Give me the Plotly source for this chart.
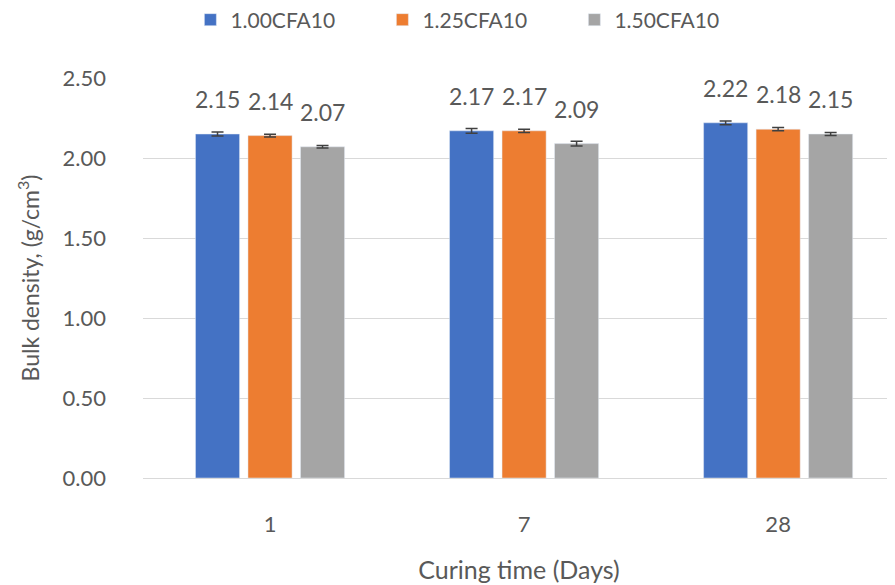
import plotly.graph_objects as go

days = ["1", "7", "28"]
series = ["1.00CFA10", "1.25CFA10", "1.50CFA10"]
colors = ["#4472C4", "#ED7D31", "#A5A5A5"]

density_100 = [2.15, 2.17, 2.22]
density_125 = [2.14, 2.17, 2.18]
density_150 = [2.07, 2.09, 2.15]

err_100 = [0.012, 0.015, 0.012]
err_125 = [0.009, 0.010, 0.010]
err_150 = [0.008, 0.015, 0.010]

values = [density_100, density_125, density_150]
errors = [err_100, err_125, err_150]

font = "Lato, 'Open Sans', sans-serif"
grey_text = "#595959"

fig = go.Figure()
for name, vals, errs, col in zip(series, values, errors, colors):
    fig.add_trace(go.Bar(
        x=days, y=vals, name=name, marker_color=col,
        error_y=dict(type="data", array=errs, color="#404040",
                     thickness=1.5, width=6),
    ))

# value labels above bars (Excel style)
n = len(series)
slot = 1 - 0.38
for i, vals in enumerate(values):
    offset = (i - (n - 1) / 2) * slot / n
    for j, v in enumerate(vals):
        fig.add_annotation(
            x=j + offset, y=v, text=f"{v:.2f}", showarrow=False,
            xref="x", yref="y", yanchor="middle", yshift=35,
            font=dict(family=font, size=23, color=grey_text),
        )

fig.update_layout(
    width=895, height=585,
    margin=dict(l=135, r=8, t=70, b=115, autoexpand=False),
    paper_bgcolor="white", plot_bgcolor="white",
    barmode="group", bargap=0.38, bargroupgap=0.16,
    font=dict(family=font, color=grey_text, size=18),
    legend=dict(orientation="h", x=0.063, xanchor="left", y=1.145,
                yanchor="middle", font=dict(size=21),
                entrywidth=147, entrywidthmode="pixels",
                itemwidth=30, traceorder="normal"),
    showlegend=True,
)
fig.update_xaxes(
    type="category", range=[-0.5, 2.46], automargin=False,
    showgrid=False, showline=False, ticks="",
    tickfont=dict(size=22), ticklabelstandoff=31,
    title=dict(text="Curing time (Days)", font=dict(size=25), standoff=25),
)
fig.update_yaxes(
    range=[0, 2.5], dtick=0.5, tickformat=".2f", automargin=False,
    showgrid=True, gridcolor="#D9D9D9", gridwidth=1.3,
    zeroline=True, zerolinecolor="#D9D9D9", zerolinewidth=1.3,
    showline=False, ticks="", tickfont=dict(size=22), ticklabelstandoff=36,
    title=dict(text="Bulk density, (g/cm<sup>3</sup>)", font=dict(size=23),
               standoff=16),
)

fig.write_html("out.html")
